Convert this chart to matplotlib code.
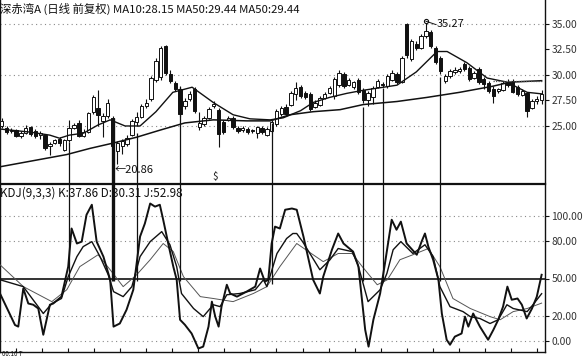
import numpy as np
import matplotlib
matplotlib.use("Agg")
import matplotlib.pyplot as plt

plt.rcParams['font.family'] = ['Noto Sans CJK SC', 'DejaVu Sans']

# daily candles (open, high, low, close)
opens = [25.0, 24.8, 24.5, 24.6, 24.0, 24.3, 24.9, 24.5, 24.1, 24.1,
         23.0, 23.3, 23.7, 22.6, 23.6, 24.8, 25.3, 24.0, 24.4, 26.4,
         26.8, 25.5, 26.0, 25.8, 22.5, 23.0, 23.2, 24.1, 25.4, 25.9,
         27.0, 27.6, 29.5, 29.8, 32.8, 30.1, 29.2, 28.6, 27.0, 27.6,
         28.6, 24.9, 25.2, 25.8, 27.0, 26.6, 25.4, 25.6, 25.8, 24.8,
         24.6, 24.7, 24.5, 24.3, 24.8, 24.1, 24.5, 25.2, 26.2, 26.9,
         27.1, 28.1, 28.8, 28.2, 28.1, 26.9, 27.1, 27.7, 28.2, 27.9,
         29.0, 30.1, 29.0, 28.8, 29.5, 28.5, 27.5, 27.8, 28.8, 29.1,
         28.9, 29.5, 30.1, 29.3, 35.0, 31.6, 33.0, 32.6, 33.8, 34.2,
         32.6, 31.7, 29.4, 29.9, 30.3, 30.4, 31.1, 30.7, 29.7, 30.6,
         29.6, 29.2, 28.6, 28.4, 28.5, 29.3, 29.4, 28.8, 28.0, 28.2,
         26.8, 27.4, 27.5]
highs = [25.8, 25.0, 24.8, 24.7, 24.5, 25.1, 25.0, 24.7, 24.5, 24.2,
         23.4, 23.7, 23.9, 23.7, 25.6, 25.3, 25.6, 24.7, 26.4, 28.0,
         28.5, 26.3, 27.6, 26.0, 23.5, 23.7, 24.1, 25.7, 26.4, 27.2,
         27.6, 29.9, 31.7, 32.8, 32.9, 30.5, 29.4, 28.9, 27.7, 28.4,
         28.8, 26.4, 26.0, 26.9, 27.4, 26.8, 25.6, 26.0, 26.0, 25.0,
         25.0, 24.9, 24.7, 25.0, 25.0, 24.9, 25.6, 26.7, 27.0, 27.2,
         28.4, 29.3, 29.0, 28.4, 28.3, 27.5, 27.9, 28.3, 28.9, 29.8,
         30.5, 30.3, 29.7, 29.4, 29.7, 28.7, 28.4, 28.9, 29.6, 29.3,
         30.1, 30.5, 30.3, 31.9, 35.1, 33.5, 33.3, 34.0, 35.27, 34.4,
         32.8, 31.9, 30.1, 30.6, 30.8, 30.8, 31.3, 30.9, 30.4, 30.8,
         29.8, 29.4, 28.9, 28.7, 29.4, 29.6, 29.6, 29.0, 28.6, 28.3,
         27.6, 27.9, 28.5]
lows = [24.8, 24.2, 24.3, 23.9, 23.8, 24.2, 24.0, 23.8, 23.7, 22.6,
        22.2, 23.2, 23.0, 22.5, 23.4, 24.7, 23.9, 23.9, 24.3, 26.2,
        25.0, 23.9, 25.8, 22.9, 21.3, 22.3, 23.0, 24.0, 25.0, 25.8,
        26.8, 27.4, 29.3, 29.5, 30.0, 29.2, 28.4, 25.9, 26.7, 27.4,
        26.3, 24.6, 25.0, 25.7, 26.8, 22.9, 24.2, 25.5, 24.7, 24.3,
        24.4, 24.2, 24.3, 23.8, 24.2, 24.0, 24.3, 25.0, 26.0, 26.0,
        27.0, 27.5, 27.7, 27.6, 26.5, 26.8, 27.0, 27.6, 28.1, 27.6,
        28.8, 28.7, 28.9, 28.6, 28.1, 27.3, 27.0, 27.2, 28.7, 28.8,
        28.7, 29.4, 29.1, 29.2, 31.7, 31.4, 32.4, 32.5, 33.6, 32.6,
        31.1, 30.1, 29.2, 29.7, 30.1, 30.2, 30.4, 29.4, 29.6, 29.1,
        28.6, 28.2, 27.3, 28.2, 28.4, 28.8, 28.2, 27.9, 27.9, 25.9,
        26.7, 27.2, 27.2]
closes = [25.5, 24.4, 24.6, 24.0, 24.3, 24.8, 24.2, 24.0, 24.3, 22.8,
          23.2, 23.6, 23.3, 23.6, 24.8, 25.1, 24.0, 24.4, 26.3, 27.8,
          26.1, 26.0, 27.3, 23.0, 23.3, 23.5, 23.8, 25.5, 25.9, 27.0,
          27.3, 29.7, 31.4, 32.6, 30.2, 29.4, 28.6, 26.2, 27.4, 28.1,
          26.5, 25.3, 25.8, 26.7, 27.2, 24.2, 24.4, 25.8, 24.9, 24.5,
          24.8, 24.4, 24.5, 24.9, 24.4, 24.7, 25.4, 26.5, 26.8, 26.2,
          28.2, 28.7, 27.9, 27.8, 26.7, 27.3, 27.7, 28.1, 28.7, 29.6,
          30.2, 28.9, 29.5, 29.3, 28.3, 27.5, 28.2, 28.7, 29.4, 29.0,
          29.9, 30.2, 29.3, 31.7, 32.0, 33.3, 32.6, 33.8, 34.3, 32.8,
          31.3, 30.4, 29.9, 30.4, 30.5, 30.6, 30.6, 29.6, 30.2, 29.3,
          29.1, 28.4, 27.9, 28.6, 29.2, 29.0, 28.3, 28.1, 28.4, 26.5,
          27.4, 27.6, 28.1]

# moving averages sampled along the curves (day, price)
ma10_day = [-0.35, 5.9, 10, 12, 14, 17, 20, 22.5, 25.6, 28.7, 32, 35.5, 39.5,
            43.9, 48, 51.5, 55.7, 58.4, 62, 64.6, 68, 71.6, 75, 82, 86, 90.3,
            92.4, 96.5, 100.7, 104.8, 109, 112]
ma10_val = [24.7, 24.4, 24.1, 23.8, 24.1, 24.3, 25.1, 25.6, 25.0, 25.0, 26.4,
            28.3, 28.8, 27.3, 26.1, 25.7, 25.6, 25.8, 26.5, 27.3, 27.8, 28.2,
            28.5, 29.0, 30.3, 32.3, 32.3, 31.2, 29.7, 29.3, 28.3, 28.15]
ma50_day = [-0.35, 13.5, 18.3, 22.9, 28, 32.9, 38, 43.9, 50.9, 55.7, 59.8,
            64.6, 70.2, 75, 82, 88.2, 95, 101.9, 105.5, 112]
ma50_val = [21.0, 22.2, 22.8, 23.3, 23.9, 24.6, 25.3, 25.6, 25.5, 25.5, 26.1,
            26.4, 26.6, 27.1, 27.4, 27.8, 28.3, 28.9, 29.3, 29.44]

# KDJ(9,3,3) lines sampled at their bends (day, value)
j_day = [-0.35, 2.76, 3.44, 4.48, 5.52, 6.56, 7.59, 8.63, 10.0, 10.7, 12.4,
         13.8, 14.5, 15.6, 16.6, 17.6, 18.7, 19.7, 21.1, 22.5, 23.2, 24.5,
         25.9, 27.3, 28.7, 29.7, 30.8, 31.8, 32.8, 33.5, 34.6, 35.6, 36.3,
         37.0, 38.0, 39.4, 40.8, 41.8, 42.9, 43.6, 44.3, 45.0, 45.6, 46.7,
         47.4, 48.8, 50.8, 52.6, 53.6, 54.6, 55.3, 56.0, 56.7, 57.7, 58.8,
         60.2, 61.2, 62.6, 64.6, 66.0, 66.7, 68.5, 69.8, 70.9, 72.9, 74.0,
         75.4, 76.1, 77.1, 78.5, 79.5, 80.9, 81.9, 82.8, 84.0, 86.1, 87.1,
         87.8, 88.5, 89.5, 90.6, 91.3, 92.3, 93.0, 94.0, 95.4, 96.1, 96.8,
         97.8, 99.2, 100.9, 102.0, 103.0, 104.0, 104.9, 105.8, 107.0, 107.9,
         108.9, 110.0, 111.0, 112.0]
j_val = [38, 12.8, 11.5, 42, 30, 29, 26, 5, 29, 30, 35.5,
         59.5, 90, 78, 79.5, 101, 109, 79.5, 67.5, 49, 11.5, 14,
         25, 41, 83.5, 94, 110, 107.5, 109, 97, 77, 59.5, 49,
         17, 13, 6, -6, -4.5, 11.5, 31.5, 19.5, 11.5, 27.5, 45,
         38, 35.5, 39.5, 43.5, 58, 47.5, 49, 78, 91.5, 90, 105,
         106, 105, 83.5, 49, 38, 51.5, 73, 86, 78, 71.5, 59.5,
         9, -4.5, 17, 38, 62, 97, 89, 95.5, 78, 69, 79.5,
         86, 75.5, 65, 49, 22, 1, -3, 3.5, 6, 19.5, 11.5,
         22, 11.5, 1, 9, 17, 27.5, 43.5, 33, 34, 29,
         18, 26, 35.5, 52.98]
k_day = [-0.35, 4.48, 8.63, 10.4, 12.4, 13.8, 15.6, 16.9, 18.7, 20.4, 22.1,
         23.2, 25.2, 27.0, 28.7, 30.8, 33.2, 34.9, 36.3, 37.3, 39.8, 41.8,
         43.9, 45.3, 46.7, 49.4, 52.6, 54.3, 55.0, 57.1, 59.1, 60.4, 61.2,
         62.5, 66.0, 68.1, 69.8, 72.7, 73.9, 76.0, 78.5, 79.9, 81.2, 82.8,
         85.3, 87.8, 89.5, 90.9, 93.0, 95.7, 97.2, 99.2, 101.3, 103.0, 104.8,
         106.1, 109.0, 110.2, 112.0]
k_val = [49, 43.5, 22, 30, 34, 51.5, 67.5, 75.5, 79.5, 67.5, 53,
         39.5, 35.5, 43.5, 67.5, 79.5, 87.5, 77, 59.5, 38, 26, 19.5,
         29, 27.5, 37, 38, 41, 49, 43.5, 70, 82, 86, 86,
         79, 57, 65, 74, 71.5, 61, 31.5, 41, 54, 73, 79.5,
         70, 77, 67.5, 43.5, 27.5, 23.5, 19.5, 18, 14, 17, 29,
         26, 23.5, 29, 37.86]
d_day = [-0.35, 4.5, 10.4, 13.5, 16.2, 20.0, 22.5, 25.2, 28.0, 30.8, 33.5,
         35.6, 37.7, 41.2, 43.9, 48.0, 52.2, 55.0, 57.7, 61.2, 64.6, 66.7,
         69.8, 72.7, 74.8, 77.9, 80.0, 82.6, 85.3, 88.5, 90.9, 93.6, 97.2,
         101.3, 103.4, 106.1, 109.0, 112.0]
d_val = [61, 43.5, 31.5, 41, 59.5, 69, 57, 43.5, 53, 65, 78,
         71.5, 51.5, 35.5, 34, 31.5, 38, 43.5, 59.5, 78, 69, 63.5,
         70, 70, 59.5, 45, 49, 65, 69, 74, 59.5, 34, 26,
         19.5, 17, 23.5, 26, 30.31]

# hand-drawn signal lines: day, price where it starts, KDJ value where it ends
sig_day = [14, 23, 28, 37, 56, 75, 79, 91]
sig_top = [23.4, 25.8, 24.3, 28.8, 25.3, 26.9, 28.7, 29.8]
sig_bot = [48, 48, 48, 48, 46, 48, 48, 48]

price_ticks = [25.0, 27.5, 30.0, 32.5, 35.0]
kdj_ticks = [0, 20, 50, 80, 100]

W, H = 587, 358
fig = plt.figure(figsize=(W / 100, H / 100), dpi=100)
ax1 = fig.add_axes([0, 1 - 183 / H, 545 / W, 183 / H])
ax2 = fig.add_axes([0, 1 - 352 / H, 545 / W, (352 - 184) / H])

ink = '#111111'
grid_kw = dict(color='#8a8a8a', lw=0.8, ls=(0, (1, 3)))

# ---- price panel
days = np.arange(len(opens))
o = np.array(opens); c = np.array(closes)
ax1.vlines(days, lows, highs, color=ink, lw=0.8, zorder=2)
up = c >= o
body_lo = np.minimum(o, c)
body_h = np.maximum(np.abs(c - o), 0.08)
ax1.bar(days[up], body_h[up], bottom=body_lo[up], width=0.7,
        facecolor='white', edgecolor=ink, lw=0.7, zorder=3)
ax1.bar(days[~up], body_h[~up], bottom=body_lo[~up], width=0.7,
        facecolor=ink, edgecolor=ink, lw=0.7, zorder=3)
ax1.plot(ma10_day, ma10_val, color=ink, lw=1.0, zorder=4)
ax1.plot(ma50_day, ma50_val, color=ink, lw=1.1, zorder=4)
ax1.hlines(29.44, 102, 112, color='#555555', lw=0.9, ls=(0, (1, 1)), zorder=4)
for p in [25.0, 30.0, 35.0]:
    ax1.axhline(p, zorder=0, **grid_kw)

ax1.set_xlim(-0.35, 112.7)
ax1.set_ylim(19.41, 37.35)
ax1.set_yticks(price_ticks)
ax1.set_yticklabels(['%.2f' % p for p in price_ticks])
ax1.set_xticks([])

ax1.text(0, 0.985, '深赤湾A (日线 前复权) MA10:28.15 MA50:29.44 MA50:29.44',
         transform=ax1.transAxes, ha='left', va='top', fontsize=8.2, color=ink)
ax1.plot([88], [35.27], marker='o', ms=3, mfc='white', mec=ink, mew=0.8, zorder=5)
ax1.plot([88, 90.0], [35.27, 34.95], color=ink, lw=0.7, zorder=5)
ax1.text(90.3, 34.95, '35.27', ha='left', va='center', fontsize=8, color=ink)
ax1.text(23.5, 20.7, '←20.86', ha='left', va='center', fontsize=8, color=ink)
ax1.text(44.3, 20.0, '$', ha='center', va='center', fontsize=7, color=ink)

# ---- KDJ panel
ax2.plot(d_day, d_val, color='#555555', lw=0.7, zorder=3)
ax2.plot(k_day, k_val, color=ink, lw=1.0, zorder=3)
ax2.plot(j_day, j_val, color=ink, lw=1.4, zorder=3)
ax2.axhline(50, color=ink, lw=1.2, zorder=2)
for v in [0, 20, 80, 100]:
    ax2.axhline(v, zorder=0, **grid_kw)

ax2.set_xlim(-0.35, 112.7)
ax2.set_ylim(-8.8, 125.6)
ax2.set_yticks(kdj_ticks)
ax2.set_yticklabels(['%.2f' % v for v in kdj_ticks])
ax2.set_xticks(np.arange(3, 113, 5.4))
ax2.set_xticklabels([])
ax2.tick_params(axis='x', direction='in', length=3, width=0.8, color=ink)
ax2.text(0, 0.985, 'KDJ(9,3,3) K:37.86 D:30.31 J:52.98',
         transform=ax2.transAxes, ha='left', va='top', fontsize=8.4, color=ink)

# signal lines crossing both panels
for d, top, bot in zip(sig_day, sig_top, sig_bot):
    lw = 2.4 if d == 23 else 0.9
    ax1.vlines(d, 19.41, top, color=ink, lw=lw, zorder=6)
    ax2.vlines(d, bot, 125.6, color=ink, lw=lw, zorder=6)

for ax in (ax1, ax2):
    ax.yaxis.tick_right()
    ax.tick_params(axis='y', direction='out', length=3, width=0.8,
                   color=ink, labelsize=7.4, labelcolor='#333333', pad=1.5)
    for s in ax.spines.values():
        s.set_color(ink)
        s.set_linewidth(1.0)
ax1.spines['top'].set_visible(False)
ax1.spines['bottom'].set_visible(False)
ax2.spines['top'].set_linewidth(1.6)

fig.text(2 / W, 0.5 / H, '00.10 T', fontsize=4.5, color=ink, va='bottom')

fig.savefig('out.png', dpi=100)
